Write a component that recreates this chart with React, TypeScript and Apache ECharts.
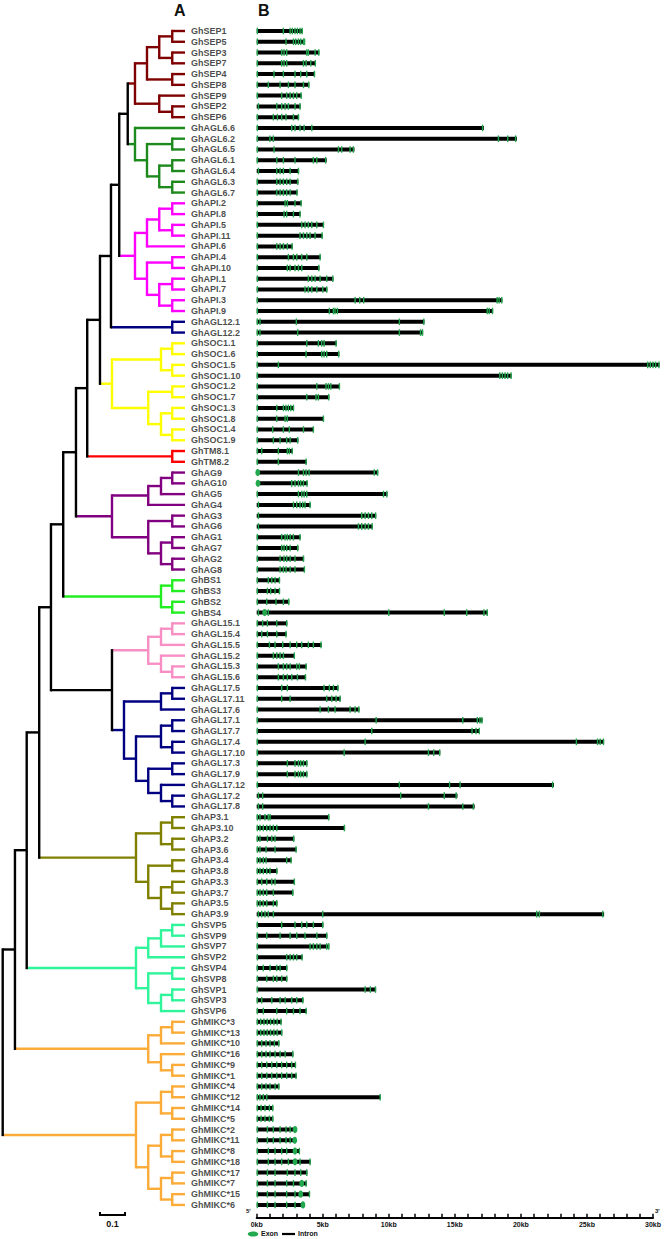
import React, { useEffect, useRef } from "react";
import * as echarts from "echarts";

// ---------- Tree data (node = [depth from root, children, clade colour]) ----------
type TNode = string | [number, TNode[], string?];
const LEAF_DEPTH = 0.729;
const SCALE_BAR_LEN = 0.1;
const SCALE_BAR_POS: [number, number] = [0.389, 109.94];

const SEP_TREE: TNode = [0.529, [
  [0.577, [[0.626, [[0.678, ["GhSEP1", "GhSEP5"]], [0.678, ["GhSEP3", "GhSEP7"]]]], [0.678, ["GhSEP4", "GhSEP8"]]]],
  [0.626, ["GhSEP9", [0.678, ["GhSEP2", "GhSEP6"]]]],
], "#7f0000"];
const AGL6_TREE: TNode = [0.529, [
  "GhAGL6.6",
  [0.577, [[0.678, ["GhAGL6.2", "GhAGL6.5"]], [0.626, [[0.678, ["GhAGL6.1", "GhAGL6.4"]], [0.678, ["GhAGL6.3", "GhAGL6.7"]]]]]],
], "#1e8a1e"];
const API_TREE: TNode = [0.529, [
  [0.577, [[0.626, [[0.678, ["GhAPI.2", "GhAPI.8"]], [0.678, ["GhAPI.5", "GhAPI.11"]]]], "GhAPI.6"]],
  [0.577, [[0.678, ["GhAPI.4", "GhAPI.10"]], [0.626, [[0.678, ["GhAPI.1", "GhAPI.7"]], [0.678, ["GhAPI.3", "GhAPI.9"]]]]]],
], "#ff00ff"];
const AGL12_TREE: TNode = [0.678, ["GhAGL12.1", "GhAGL12.2"], "#000080"];
const SOC1_TREE: TNode = [0.437, [
  [0.633, [[0.678, ["GhSOC1.1", "GhSOC1.6"]], [0.678, ["GhSOC1.5", "GhSOC1.10"]]]],
  [0.582, [[0.678, ["GhSOC1.2", "GhSOC1.7"]], [0.633, [[0.678, ["GhSOC1.3", "GhSOC1.8"]], [0.678, ["GhSOC1.4", "GhSOC1.9"]]]]]],
], "#ffff00"];
const TM8_TREE: TNode = [0.678, ["GhTM8.1", "GhTM8.2"], "#ff0000"];
const AG_TREE: TNode = [0.437, [
  [0.582, [[0.633, [[0.678, ["GhAG9", "GhAG10"]], "GhAG5"]], "GhAG4"]],
  [0.582, [[0.678, ["GhAG3", "GhAG6"]], [0.633, [[0.678, ["GhAG1", "GhAG7"]], [0.678, ["GhAG2", "GhAG8"]]]]]],
], "#800080"];
const BS_TREE: TNode = [0.633, [[0.678, ["GhBS1", "GhBS3"]], [0.678, ["GhBS2", "GhBS4"]]], "#22ee22"];
const AGL15_TREE: TNode = [0.582, [
  [0.633, [[0.678, ["GhAGL15.1", "GhAGL15.4"]], "GhAGL15.5"]],
  [0.633, ["GhAGL15.2", [0.678, ["GhAGL15.3", "GhAGL15.6"]]]],
], "#f78fc4"];
const AGL17_TREE: TNode = [0.485, [
  [0.633, [[0.678, ["GhAGL17.5", "GhAGL17.11"]], "GhAGL17.6"]],
  [0.533, [
    [0.633, [[0.678, ["GhAGL17.1", "GhAGL17.7"]], [0.678, ["GhAGL17.4", "GhAGL17.10"]]]],
    [0.582, [[0.678, ["GhAGL17.3", "GhAGL17.9"]], [0.633, ["GhAGL17.12", [0.678, ["GhAGL17.2", "GhAGL17.8"]]]]]],
  ]],
], "#000080"];
const AP3_TREE: TNode = [0.533, [
  [0.633, [[0.678, ["GhAP3.1", "GhAP3.10"]], [0.678, ["GhAP3.2", "GhAP3.6"]]]],
  [0.582, [[0.678, ["GhAP3.4", "GhAP3.8"]], [0.633, [[0.678, ["GhAP3.3", "GhAP3.7"]], [0.678, ["GhAP3.5", "GhAP3.9"]]]]]],
], "#808000"];
const SVP_TREE: TNode = [0.533, [
  [0.582, [[0.633, [[0.678, ["GhSVP5", "GhSVP9"]], "GhSVP7"]], "GhSVP2"]],
  [0.582, [[0.678, ["GhSVP4", "GhSVP8"]], [0.633, [[0.678, ["GhSVP1", "GhSVP3"]], "GhSVP6"]]]],
], "#2ef59a"];
const MIKC1_TREE: TNode = [0.582, [
  [0.633, [[0.678, ["GhMIKC*3", "GhMIKC*13"]], "GhMIKC*10"]],
  [0.633, ["GhMIKC*16", [0.678, ["GhMIKC*9", "GhMIKC*1"]]]],
], "#fbac38"];
const MIKC2_TREE: TNode = [0.533, [
  [0.633, [[0.678, ["GhMIKC*4", "GhMIKC*12"]], [0.678, ["GhMIKC*14", "GhMIKC*5"]]]],
  [0.582, [
    [0.633, [[0.678, ["GhMIKC*2", "GhMIKC*11"]], [0.678, ["GhMIKC*8", "GhMIKC*18"]]]],
    [0.633, [[0.678, ["GhMIKC*17", "GhMIKC*7"]], [0.678, ["GhMIKC*15", "GhMIKC*6"]]]],
  ]],
], "#fbac38"];

const TREE: TNode = [0, [
  [0.049, [
    [0.096, [
      [0.146, [
        [0.193, [
          [0.242, [
            [0.293, [
              [0.338, [
                [0.389, [
                  [0.433, [[0.466, [[0.5, [SEP_TREE, AGL6_TREE]], API_TREE]], AGL12_TREE]],
                  SOC1_TREE]],
                TM8_TREE]],
              AG_TREE]],
            BS_TREE]],
          [0.437, [AGL15_TREE, AGL17_TREE]]]],
        AP3_TREE]],
      SVP_TREE]],
    MIKC1_TREE]],
  MIKC2_TREE]];

// ---------- Gene structure data: [name, length kb, exon positions kb, large exons kb] ----------
type Gene = [string, number, number[], number[]?];
const SEP_GENES: Gene[] = [
  ["GhSEP1", 3.48, [0.05, 2.02, 2.53, 2.7, 2.9, 3.08, 3.28, 3.44]],
  ["GhSEP5", 3.66, [0.05, 2.22, 2.78, 2.95, 3.16, 3.33, 3.54, 3.62]],
  ["GhSEP3", 4.75, [0.05, 1.89, 2.07, 2.27, 3.79, 3.91, 4.42, 4.7]],
  ["GhSEP7", 4.49, [0.05, 1.89, 2.07, 2.27, 3.54, 3.74, 4.09, 4.44]],
  ["GhSEP4", 4.42, [0.05, 1.31, 2.02, 2.9, 3.33, 3.79, 4.37]],
  ["GhSEP8", 3.99, [0.05, 0.88, 1.77, 2.4, 2.9, 3.54, 3.94]],
  ["GhSEP9", 3.41, [0.05, 1.89, 2.27, 2.53, 2.78, 3.03, 3.36]],
  ["GhSEP2", 3.33, [0.13, 1.52, 1.89, 2.15, 2.4, 2.9, 3.28]],
  ["GhSEP6", 3.21, [0.05, 1.26, 1.57, 1.89, 2.22, 2.78, 3.16]],
];
const AGL6_GENES: Gene[] = [
  ["GhAGL6.6", 17.2, [0.05, 2.65, 2.9, 3.28, 3.59, 4.17, 17.1]],
  ["GhAGL6.2", 19.7, [0.05, 1.0, 1.26, 18.3, 19.0, 19.6]],
  ["GhAGL6.5", 7.4, [0.05, 1.31, 6.19, 6.44, 7.07, 7.32]],
  ["GhAGL6.1", 5.3, [0.05, 1.52, 2.02, 2.9, 4.29, 4.55, 5.22]],
  ["GhAGL6.4", 3.21, [0.13, 1.52, 1.77, 2.02, 2.53, 3.16]],
  ["GhAGL6.3", 3.16, [0.05, 1.52, 1.77, 2.02, 2.27, 2.53, 3.1]],
  ["GhAGL6.7", 3.1, [0.05, 1.52, 1.77, 2.02, 2.27, 2.53, 3.05]],
];
const API_GENES: Gene[] = [
  ["GhAPI.2", 3.41, [0.05, 2.15, 2.32, 2.9, 3.36]],
  ["GhAPI.8", 3.33, [0.05, 2.07, 2.27, 2.78, 3.28]],
  ["GhAPI.5", 5.1, [0.05, 3.41, 3.66, 3.91, 4.17, 4.55, 5.05]],
  ["GhAPI.11", 5.0, [0.05, 3.28, 3.54, 3.79, 4.04, 4.42, 4.95]],
  ["GhAPI.6", 2.73, [0.05, 1.52, 1.77, 2.02, 2.32, 2.68]],
  ["GhAPI.4", 4.85, [0.05, 2.4, 2.78, 3.03, 3.41, 3.79, 4.8]],
  ["GhAPI.10", 4.75, [0.05, 2.32, 2.53, 2.9, 3.16, 3.41, 4.7]],
  ["GhAPI.1", 5.81, [0.05, 3.91, 4.17, 4.42, 4.8, 5.3, 5.76]],
  ["GhAPI.7", 5.35, [0.05, 3.66, 3.91, 4.17, 4.55, 5.0, 5.3]],
  ["GhAPI.3", 18.6, [0.05, 7.45, 7.8, 8.1, 18.2, 18.35, 18.55]],
  ["GhAPI.9", 17.9, [0.05, 5.5, 5.8, 5.93, 6.11, 17.45, 17.6, 17.85]],
];
const AGL12_GENES: Gene[] = [
  ["GhAGL12.1", 12.7, [0.05, 0.25, 3.0, 10.8, 12.65]],
  ["GhAGL12.2", 12.6, [0.05, 0.25, 3.1, 10.8, 12.4, 12.55]],
];
const SOC1_GENES: Gene[] = [
  ["GhSOC1.1", 6.06, [0.05, 3.79, 4.67, 4.92, 5.1, 6.01]],
  ["GhSOC1.6", 6.26, [0.05, 3.74, 4.92, 5.1, 5.3, 6.21]],
  ["GhSOC1.5", 30.5, [0.05, 1.64, 29.6, 29.8, 30.0, 30.2, 30.45]],
  ["GhSOC1.10", 19.3, [0.05, 18.4, 18.6, 18.8, 19.0, 19.25]],
  ["GhSOC1.2", 6.31, [0.05, 4.55, 5.25, 5.43, 5.61, 6.26]],
  ["GhSOC1.7", 5.5, [0.05, 3.79, 4.49, 4.67, 5.45]],
  ["GhSOC1.3", 2.83, [0.05, 1.52, 2.02, 2.22, 2.4, 2.58, 2.78]],
  ["GhSOC1.8", 5.1, [0.05, 1.52, 2.15, 2.32, 5.05]],
  ["GhSOC1.4", 4.34, [0.05, 1.21, 2.02, 2.47, 3.54, 4.29]],
  ["GhSOC1.9", 3.16, [0.05, 1.26, 1.77, 2.27, 2.53, 3.1]],
];
const TM8_GENES: Gene[] = [
  ["GhTM8.1", 2.73, [0.05, 0.38, 1.64, 2.32, 2.47, 2.68]],
  ["GhTM8.2", 3.79, [0.05, 1.64, 3.74]],
];
const AG_GENES: Gene[] = [
  ["GhAG9", 9.2, [3.16, 3.54, 3.74, 3.96, 8.9, 9.15], [0.08]],
  ["GhAG10", 3.86, [2.65, 2.9, 3.16, 3.33, 3.54, 3.81], [0.1]],
  ["GhAG5", 9.9, [0.05, 3.16, 3.41, 3.59, 3.79, 9.6, 9.85]],
  ["GhAG4", 4.09, [0.13, 2.78, 3.03, 3.28, 3.48, 3.66, 4.04]],
  ["GhAG3", 9.05, [0.13, 7.95, 8.21, 8.46, 8.71, 9.0]],
  ["GhAG6", 8.79, [0.13, 7.7, 7.95, 8.21, 8.46, 8.74]],
  ["GhAG1", 3.33, [0.05, 1.89, 2.15, 2.32, 2.53, 2.78, 3.28]],
  ["GhAG7", 3.16, [0.05, 1.89, 2.07, 2.27, 2.53, 3.1]],
  ["GhAG2", 3.59, [0.05, 1.77, 2.07, 2.27, 2.53, 2.9, 3.54]],
  ["GhAG8", 3.66, [0.05, 1.77, 2.02, 2.22, 2.53, 2.9, 3.61]],
];
const BS_GENES: Gene[] = [
  ["GhBS1", 1.77, [0.05, 0.88, 1.14, 1.39, 1.72]],
  ["GhBS3", 1.77, [0.05, 0.81, 1.06, 1.39, 1.72]],
  ["GhBS2", 2.47, [0.05, 0.76, 1.46, 2.02, 2.42]],
  ["GhBS4", 17.5, [0.13, 0.88, 10.0, 14.2, 15.9, 17.2, 17.45], [0.6]],
];
const AGL15_GENES: Gene[] = [
  ["GhAGL15.1", 2.32, [0.05, 0.45, 0.81, 1.52, 2.27]],
  ["GhAGL15.4", 2.27, [0.05, 0.38, 0.81, 1.52, 2.22]],
  ["GhAGL15.5", 4.92, [0.05, 0.96, 1.39, 1.97, 2.53, 3.03, 3.41, 3.91, 4.29, 4.87]],
  ["GhAGL15.2", 2.9, [0.05, 1.26, 1.52, 1.77, 2.02, 2.85]],
  ["GhAGL15.3", 3.79, [0.05, 1.64, 2.02, 2.27, 2.53, 3.03, 3.23, 3.74]],
  ["GhAGL15.6", 3.74, [0.05, 1.64, 2.02, 2.32, 2.65, 3.08, 3.69]],
];
const AGL17_GENES: Gene[] = [
  ["GhAGL17.5", 6.19, [0.05, 1.89, 2.32, 5.1, 5.5, 5.81, 6.14]],
  ["GhAGL17.11", 6.36, [0.05, 1.89, 2.53, 5.3, 5.68, 6.01, 6.31]],
  ["GhAGL17.6", 7.78, [0.05, 4.8, 5.43, 5.93, 7.07, 7.45, 7.73]],
  ["GhAGL17.1", 17.1, [0.05, 9.04, 15.6, 16.7, 16.9, 17.05]],
  ["GhAGL17.7", 16.9, [0.05, 8.71, 16.3, 16.6, 16.85]],
  ["GhAGL17.4", 26.3, [0.05, 8.21, 24.2, 25.8, 26.0, 26.25]],
  ["GhAGL17.10", 13.9, [0.05, 6.62, 13.0, 13.4, 13.85]],
  ["GhAGL17.3", 3.84, [0.05, 2.32, 2.9, 3.16, 3.33, 3.54, 3.79]],
  ["GhAGL17.9", 3.84, [0.05, 2.32, 2.9, 3.16, 3.33, 3.54, 3.79]],
  ["GhAGL17.12", 22.5, [0.05, 10.8, 14.6, 15.4, 22.4]],
  ["GhAGL17.2", 15.2, [0.13, 0.45, 10.9, 14.2, 15.1]],
  ["GhAGL17.8", 16.5, [0.13, 0.45, 13.0, 15.6, 16.4]],
];
const AP3_GENES: Gene[] = [
  ["GhAP3.1", 5.5, [0.05, 0.25, 0.63, 0.88, 1.01, 5.45]],
  ["GhAP3.10", 6.69, [0.05, 0.25, 0.5, 0.76, 1.01, 1.26, 1.52, 6.64]],
  ["GhAP3.2", 2.85, [0.05, 0.25, 0.81, 1.14, 1.39, 2.8]],
  ["GhAP3.6", 3.03, [0.05, 0.25, 0.71, 1.39, 2.98]],
  ["GhAP3.4", 2.65, [0.05, 0.25, 0.5, 0.71, 2.27, 2.6]],
  ["GhAP3.8", 1.57, [0.05, 0.25, 0.5, 0.76, 1.01, 1.52]],
  ["GhAP3.3", 2.9, [0.05, 0.38, 0.76, 1.14, 1.39, 2.85]],
  ["GhAP3.7", 2.78, [0.05, 0.25, 0.5, 0.76, 1.26, 2.73]],
  ["GhAP3.5", 1.57, [0.05, 0.25, 0.5, 0.76, 1.26, 1.52]],
  ["GhAP3.9", 26.3, [0.13, 0.38, 0.63, 0.88, 1.26, 5.0, 21.2, 21.4, 26.2]],
];
const SVP_GENES: Gene[] = [
  ["GhSVP5", 5.05, [0.05, 1.89, 2.9, 3.41, 3.79, 4.29, 5.0]],
  ["GhSVP9", 5.35, [0.05, 0.76, 1.77, 2.53, 3.03, 3.66, 4.55, 5.3]],
  ["GhSVP7", 5.5, [0.05, 4.04, 4.29, 4.55, 4.8, 5.3, 5.45]],
  ["GhSVP2", 3.48, [0.05, 2.27, 2.53, 2.78, 3.03, 3.43]],
  ["GhSVP4", 2.32, [0.05, 0.5, 1.01, 1.52, 1.77, 2.27]],
  ["GhSVP8", 2.32, [0.05, 0.76, 1.26, 1.52, 1.89, 2.27]],
  ["GhSVP1", 9.04, [0.05, 8.21, 8.6, 8.99]],
  ["GhSVP3", 3.54, [0.05, 0.38, 1.14, 1.77, 2.15, 2.65, 3.03, 3.49]],
  ["GhSVP6", 3.79, [0.05, 0.5, 1.52, 2.27, 2.78, 3.28, 3.74]],
];
const MIKC_GENES: Gene[] = [
  ["GhMIKC*3", 1.89, [0.05, 0.3, 0.55, 0.8, 1.05, 1.3, 1.55, 1.84]],
  ["GhMIKC*13", 1.94, [0.05, 0.3, 0.55, 0.8, 1.05, 1.3, 1.55, 1.89]],
  ["GhMIKC*10", 1.72, [0.05, 0.38, 0.71, 1.01, 1.34, 1.67]],
  ["GhMIKC*16", 2.78, [0.05, 0.38, 0.71, 1.01, 1.39, 1.77, 2.15, 2.73]],
  ["GhMIKC*9", 2.98, [0.05, 0.38, 0.76, 1.14, 1.52, 1.89, 2.27, 2.65, 2.93]],
  ["GhMIKC*1", 3.03, [0.05, 0.38, 0.76, 1.14, 1.52, 1.89, 2.27, 2.65, 2.98]],
  ["GhMIKC*4", 1.72, [0.05, 0.38, 0.71, 1.01, 1.39, 1.67]],
  ["GhMIKC*12", 9.4, [0.05, 0.25, 0.5, 0.76, 9.35]],
  ["GhMIKC*14", 1.26, [0.05, 0.33, 0.63, 0.96, 1.21]],
  ["GhMIKC*5", 1.26, [0.05, 0.33, 0.63, 0.96, 1.21]],
  ["GhMIKC*2", 3.03, [0.05, 0.81, 1.26, 1.77, 2.22, 2.53], [2.9]],
  ["GhMIKC*11", 2.98, [0.05, 0.81, 1.26, 1.77, 2.22, 2.53], [2.88]],
  ["GhMIKC*8", 3.28, [0.05, 0.88, 1.39, 1.89, 2.27, 3.23], [2.9]],
  ["GhMIKC*18", 4.09, [0.05, 0.88, 1.39, 1.89, 2.4, 3.28, 4.04], [2.9]],
  ["GhMIKC*17", 3.84, [0.05, 0.81, 1.39, 2.32, 2.9, 3.33, 3.79]],
  ["GhMIKC*7", 3.79, [0.05, 0.81, 1.39, 2.27, 2.78, 3.74], [3.41]],
  ["GhMIKC*15", 4.04, [0.05, 0.81, 1.39, 2.27, 2.9, 3.99], [3.33]],
  ["GhMIKC*6", 3.59, [0.05, 0.81, 1.39, 2.27, 2.9], [3.5]],
];
const ALL_GENES: Gene[] = [
  ...SEP_GENES, ...AGL6_GENES, ...API_GENES, ...AGL12_GENES, ...SOC1_GENES, ...TM8_GENES,
  ...AG_GENES, ...BS_GENES, ...AGL15_GENES, ...AGL17_GENES, ...AP3_GENES, ...SVP_GENES, ...MIKC_GENES,
];

const AXIS_MIN_KB = 0;
const AXIS_MAX_KB = 30;
const AXIS_STEP_KB = 5;
const ROW_MAX = 110.2;

const EXON_COLOR = "#22a84e";
const FONT = "'Liberation Sans', Arial, sans-serif";

type Seg = { x1: number; y1: number; x2: number; y2: number; color: string; vertical: boolean };

function layoutTree(root: TNode) {
  const leaves: string[] = [];
  const segs: Seg[] = [];
  const walk = (node: TNode, parentDepth: number | null, color: string): number => {
    if (typeof node === "string") {
      const y = leaves.length;
      leaves.push(node);
      if (parentDepth !== null) segs.push({ x1: parentDepth, y1: y, x2: LEAF_DEPTH, y2: y, color, vertical: false });
      return y;
    }
    const [d, kids, c] = node;
    const col = c ?? color;
    const ys = kids.map((k) => walk(k, d, col));
    const y = (ys[0] + ys[ys.length - 1]) / 2;
    segs.push({ x1: d, y1: ys[0], x2: d, y2: ys[ys.length - 1], color: col, vertical: true });
    if (parentDepth !== null) segs.push({ x1: parentDepth, y1: y, x2: d, y2: y, color: col, vertical: false });
    return y;
  };
  walk(root, null, "#000000");
  return { leaves, segs };
}

export default function App() {
  const ref = useRef<HTMLDivElement>(null);
  useEffect(() => {
    if (!ref.current) return;
    const chart = echarts.init(ref.current, null, { renderer: "svg" });
    const { leaves, segs } = layoutTree(TREE);
    const geneMap = new Map<string, Gene>();
    ALL_GENES.forEach((g) => geneMap.set(g[0], g));
    const rows = leaves.map((n) => geneMap.get(n)!);
    const ordered = [...segs.filter((s) => !s.vertical), ...segs.filter((s) => s.vertical)];

    const option: any = {
      animation: false,
      backgroundColor: "#ffffff",
      textStyle: { fontFamily: FONT },
      grid: [
        { left: 2.7, top: 31, width: 182.3, height: ROW_MAX * 10.77 },
        { left: 256.7, top: 31, width: 396.3, height: ROW_MAX * 10.77 },
      ],
      xAxis: [
        { gridIndex: 0, type: "value", min: 0, max: LEAF_DEPTH, show: false },
        {
          gridIndex: 1, type: "value", position: "bottom", min: AXIS_MIN_KB, max: AXIS_MAX_KB, interval: AXIS_STEP_KB,
          axisLine: { show: true, onZero: false, lineStyle: { color: "#000", width: 2 } },
          axisTick: { show: true, inside: true, length: 4, lineStyle: { color: "#000", width: 1.5 } },
          minorTick: { show: true, splitNumber: 5, length: 4, lineStyle: { color: "#000", width: 1.5 } },
          axisLabel: { formatter: "{value}kb", fontSize: 7, fontWeight: "bold", color: "#111", margin: 3, fontFamily: FONT },
          splitLine: { show: false }, minorSplitLine: { show: false },
        },
      ],
      yAxis: [
        { gridIndex: 0, type: "value", min: 0, max: ROW_MAX, inverse: true, show: false },
        { gridIndex: 1, type: "value", min: 0, max: ROW_MAX, inverse: true, show: false },
      ],
      series: [
        {
          type: "custom", xAxisIndex: 0, yAxisIndex: 0, clip: false,
          data: ordered.map((s) => [s.x1, s.y1, s.x2, s.y2]),
          renderItem: (params: any, api: any) => {
            const s = ordered[params.dataIndex];
            const a = api.coord([api.value(0), api.value(1)]);
            const b = api.coord([api.value(2), api.value(3)]);
            return {
              type: "line",
              shape: { x1: a[0], y1: a[1], x2: b[0], y2: b[1] },
              style: { stroke: s.color, lineWidth: 2.4, lineCap: s.vertical ? "square" : "butt" },
            };
          },
        },
        {
          type: "scatter", xAxisIndex: 0, yAxisIndex: 0, symbolSize: 0,
          itemStyle: { color: "rgba(0,0,0,0)" },
          data: leaves.map((n, i) => ({ name: n, value: [LEAF_DEPTH, i] })),
          label: {
            show: true, position: "right", distance: 6, formatter: "{b}",
            fontSize: 9, fontWeight: "bold", color: "#1a1a1a", fontFamily: FONT,
          },
        },
        {
          type: "custom", xAxisIndex: 0, yAxisIndex: 0, clip: false,
          data: [SCALE_BAR_POS],
          renderItem: (_p: any, api: any) => {
            const p0 = api.coord([api.value(0), api.value(1)]);
            const p1 = api.coord([api.value(0) + SCALE_BAR_LEN, api.value(1)]);
            return {
              type: "group",
              children: [
                {
                  type: "polyline",
                  shape: { points: [[p0[0], p0[1] - 3], [p0[0], p0[1]], [p1[0], p0[1]], [p1[0], p0[1] - 3]] },
                  style: { stroke: "#000", lineWidth: 2, fill: "none" },
                },
                {
                  type: "text",
                  style: {
                    text: String(SCALE_BAR_LEN), x: (p0[0] + p1[0]) / 2, y: p0[1] + 4,
                    align: "center", verticalAlign: "top", fontSize: 9, fontWeight: "bold", fill: "#111", fontFamily: FONT,
                  },
                },
              ],
            };
          },
        },
        {
          type: "custom", xAxisIndex: 1, yAxisIndex: 1, clip: false,
          data: rows.map((g, i) => [g[1], i]),
          renderItem: (params: any, api: any) => {
            const g = rows[params.dataIndex];
            const row = api.value(1);
            const p0 = api.coord([0, row]);
            const p1 = api.coord([api.value(0), row]);
            const children: any[] = [
              { type: "rect", shape: { x: p0[0], y: p0[1] - 2, width: p1[0] - p0[0], height: 4 }, style: { fill: "#000" } },
            ];
            g[2].forEach((e) => {
              const pe = api.coord([e, row]);
              children.push({
                type: "rect", shape: { x: pe[0] - 0.7, y: pe[1] - 3.3, width: 1.4, height: 6.6 },
                style: { fill: EXON_COLOR },
              });
            });
            (g[3] || []).forEach((e) => {
              const pe = api.coord([e, row]);
              children.push({
                type: "ellipse", shape: { cx: pe[0], cy: pe[1], rx: 2.4, ry: 3.6 },
                style: { fill: EXON_COLOR },
              });
            });
            return { type: "group", children };
          },
        },
      ],
      graphic: [
        { type: "text", left: 174, top: 2, style: { text: "A", fontSize: 16, fontWeight: "bold", fill: "#111", fontFamily: FONT } },
        { type: "text", left: 258, top: 2, style: { text: "B", fontSize: 16, fontWeight: "bold", fill: "#111", fontFamily: FONT } },
        { type: "text", left: 246, top: 1208, style: { text: "5'", fontSize: 6, fontWeight: "bold", fill: "#111", fontFamily: FONT } },
        { type: "text", left: 655, top: 1208, style: { text: "3'", fontSize: 6, fontWeight: "bold", fill: "#111", fontFamily: FONT } },
        { type: "ellipse", shape: { cx: 253, cy: 1234, rx: 5.3, ry: 2.6 }, style: { fill: EXON_COLOR } },
        { type: "text", left: 261, top: 1230, style: { text: "Exon", fontSize: 7, fontWeight: "bold", fill: "#111", fontFamily: FONT } },
        { type: "line", shape: { x1: 282, y1: 1234, x2: 295, y2: 1234 }, style: { stroke: "#000", lineWidth: 2.2 } },
        { type: "text", left: 298, top: 1230, style: { text: "Intron", fontSize: 7, fontWeight: "bold", fill: "#111", fontFamily: FONT } },
      ],
    };
    chart.setOption(option);
    return () => chart.dispose();
  }, []);
  return (
    <div
      ref={ref}
      style={{ position: "absolute", left: 0, top: 0, width: 670, height: 1239, background: "#fff" }}
    />
  );
}
